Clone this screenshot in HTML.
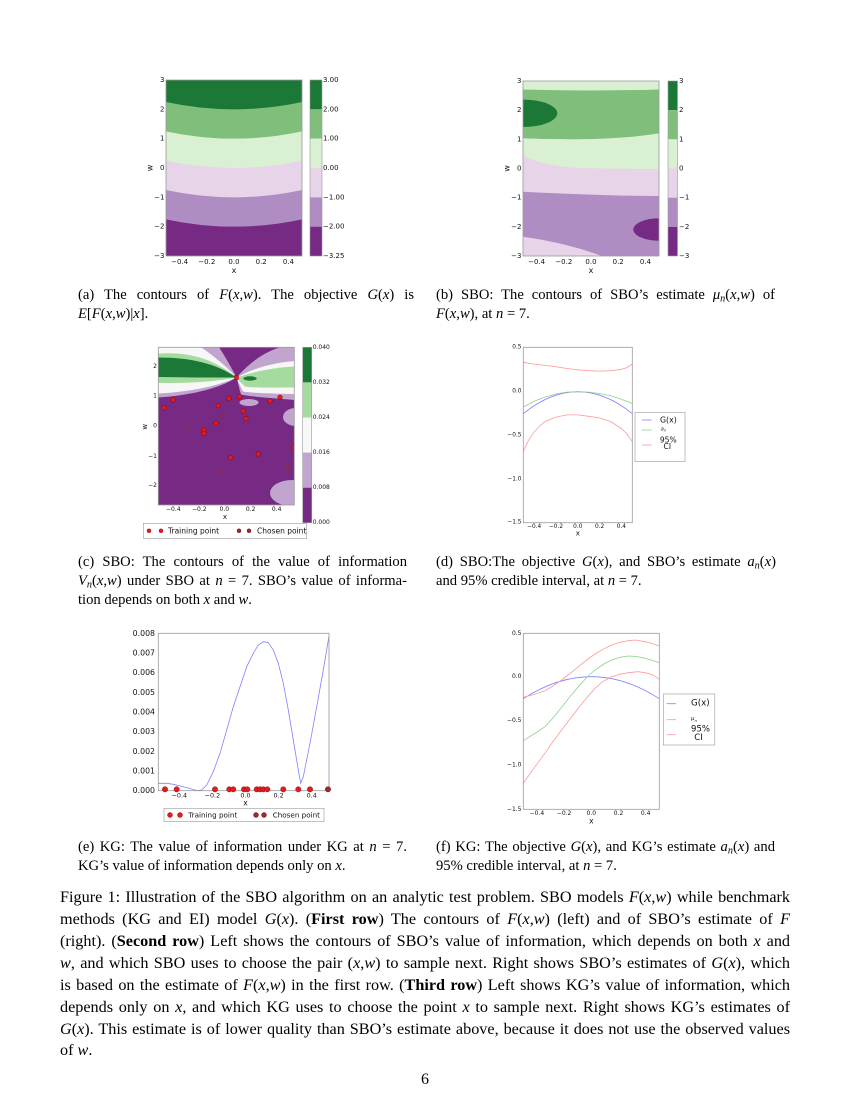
<!DOCTYPE html>
<html><head><meta charset="utf-8">
<style>
html,body{margin:0;padding:0;background:#fff;}
body{width:850px;height:1100px;position:relative;overflow:hidden;font-family:"Liberation Serif",serif;color:#000;}
svg{position:absolute;left:0;top:0;}
.sc{position:absolute;font-size:14.6px;line-height:19px;}
.j{text-align:justify;text-align-last:justify;}
.l{text-align:left;white-space:nowrap;}
.mc{position:absolute;left:60px;width:730px;font-size:16.2px;line-height:22px;}
sub{font-size:70%;vertical-align:-0.25em;line-height:0;}
.pn{position:absolute;left:0;width:850px;text-align:center;top:1069px;font-size:16px;line-height:22px;}
</style></head><body>
<svg width="850" height="1100" viewBox="0 0 850 1100" xmlns="http://www.w3.org/2000/svg">
<defs>
<clipPath id="ca"><rect x="166" y="80" width="136" height="176"/></clipPath>
<clipPath id="cb"><rect x="523" y="81" width="136" height="175"/></clipPath>
<clipPath id="cc"><rect x="158.3" y="347.3" width="136" height="157.7"/></clipPath>
<clipPath id="cd"><rect x="523.3" y="347.3" width="109" height="175.4"/></clipPath>
<clipPath id="ce"><rect x="158.3" y="633.3" width="170.7" height="157.4"/></clipPath>
<clipPath id="cf"><rect x="523.3" y="633.3" width="136" height="176"/></clipPath>
</defs>

<!-- ========== (a) ========== -->
<g clip-path="url(#ca)">
<rect x="166" y="80" width="136" height="176" fill="#1b7837"/>
<path d="M166,102 Q234,116.67 302,102 L302,256 L166,256Z" fill="#7fbf7b"/>
<path d="M166,131.33 Q234,146 302,131.33 L302,256 L166,256Z" fill="#d9f0d3"/>
<path d="M166,160.67 Q234,175.33 302,160.67 L302,256 L166,256Z" fill="#e7d4e8"/>
<path d="M166,190 Q234,204.67 302,190 L302,256 L166,256Z" fill="#af8dc3"/>
<path d="M166,219.33 Q234,234 302,219.33 L302,256 L166,256Z" fill="#762a83"/>
</g>
<rect x="166" y="80" width="136" height="176" fill="none" stroke="#999" stroke-width="0.8"/>
<rect x="310" y="80" width="12" height="29.33" fill="#1b7837"/>
<rect x="310" y="109.33" width="12" height="29.34" fill="#7fbf7b"/>
<rect x="310" y="138.67" width="12" height="29.33" fill="#d9f0d3"/>
<rect x="310" y="168" width="12" height="29.33" fill="#e7d4e8"/>
<rect x="310" y="197.33" width="12" height="29.34" fill="#af8dc3"/>
<rect x="310" y="226.67" width="12" height="29.33" fill="#762a83"/>
<rect x="310" y="80" width="12" height="176" fill="none" stroke="#999" stroke-width="0.6"/>
<g font-family="DejaVu Sans" font-size="7" fill="#111" dominant-baseline="central">
<text x="323" y="80">3.00</text><text x="323" y="109.3">2.00</text><text x="323" y="138.7">1.00</text>
<text x="323" y="168">0.00</text><text x="323" y="197.3">−1.00</text><text x="323" y="226.7">−2.00</text><text x="323" y="256">−3.25</text>
<g text-anchor="end">
<text x="164.5" y="80">3</text><text x="164.5" y="109.3">2</text><text x="164.5" y="138.7">1</text><text x="164.5" y="168">0</text>
<text x="164.5" y="197.3">−1</text><text x="164.5" y="226.7">−2</text><text x="164.5" y="256">−3</text>
</g>
<g text-anchor="middle">
<text x="179.6" y="262">−0.4</text><text x="206.8" y="262">−0.2</text><text x="234" y="262">0.0</text><text x="261.2" y="262">0.2</text><text x="288.4" y="262">0.4</text>
<text x="234" y="270.5" font-size="8">x</text>
<text x="150" y="168" font-size="8" transform="rotate(-90 150 168)">w</text>
</g>
</g>

<!-- ========== (b) ========== -->
<g clip-path="url(#cb)">
<rect x="523" y="81" width="136" height="175" fill="#d9f0d3"/>
<path d="M523,89.5 C570,90.8 615,90.8 659,89.5 L659,133.3 C635,137.5 590,141 523,138.3Z" fill="#7fbf7b"/>
<ellipse cx="523" cy="113.3" rx="34.3" ry="13.7" fill="#1b7837"/>
<path d="M523,155 C533,161 550,166.5 580,168 C615,169 640,169 659,169 L659,256 L523,256Z" fill="#e7d4e8"/>
<path d="M523,191.7 C570,194 620,196 659,196 L659,256 L602,256 C578,247 548,240 523,236.7Z" fill="#af8dc3"/>
<ellipse cx="659" cy="229.5" rx="25.7" ry="11.2" fill="#762a83"/>
</g>
<rect x="523" y="81" width="136" height="175" fill="none" stroke="#999" stroke-width="0.8"/>
<rect x="668" y="81" width="9.5" height="29.17" fill="#1b7837"/>
<rect x="668" y="110.17" width="9.5" height="29.17" fill="#7fbf7b"/>
<rect x="668" y="139.33" width="9.5" height="29.17" fill="#d9f0d3"/>
<rect x="668" y="168.5" width="9.5" height="29.17" fill="#e7d4e8"/>
<rect x="668" y="197.67" width="9.5" height="29.17" fill="#af8dc3"/>
<rect x="668" y="226.83" width="9.5" height="29.17" fill="#762a83"/>
<rect x="668" y="81" width="9.5" height="175" fill="none" stroke="#999" stroke-width="0.6"/>
<g font-family="DejaVu Sans" font-size="7" fill="#111" dominant-baseline="central">
<text x="679" y="81">3</text><text x="679" y="110.2">2</text><text x="679" y="139.3">1</text><text x="679" y="168.5">0</text>
<text x="679" y="197.7">−1</text><text x="679" y="226.8">−2</text><text x="679" y="256">−3</text>
<g text-anchor="end">
<text x="521.5" y="81">3</text><text x="521.5" y="110.2">2</text><text x="521.5" y="139.3">1</text><text x="521.5" y="168.5">0</text>
<text x="521.5" y="197.7">−1</text><text x="521.5" y="226.8">−2</text><text x="521.5" y="256">−3</text>
</g>
<g text-anchor="middle">
<text x="536.6" y="262">−0.4</text><text x="563.8" y="262">−0.2</text><text x="591" y="262">0.0</text><text x="618.2" y="262">0.2</text><text x="645.4" y="262">0.4</text>
<text x="591" y="270.5" font-size="8">x</text>
<text x="507" y="168.5" font-size="8" transform="rotate(-90 507 168.5)">w</text>
</g>
</g>

<!-- ========== (c) ========== -->
<g clip-path="url(#cc)">
<rect x="158.3" y="347.3" width="136" height="157.7" fill="#762a83"/>
<path d="M158.3,347.3 L219,347.3 C226,358 232,369 236.5,377.5 C222,387 195,395 158.3,397.5Z" fill="#c2a5cf"/>
<path d="M158.3,347.3 L201,347.3 C214,356 228,368 236.5,377.5 C220,385 195,391.5 158.3,393.5Z" fill="#f7f7f7"/>
<path d="M158.3,353.5 C185,352 210,356 236.5,377.5 C215,381.5 190,383.5 158.3,383Z" fill="#a6dba0"/>
<path d="M158.3,357.5 C190,357.5 215,363 236.5,377.5 C210,377.5 185,377.5 158.3,377Z" fill="#1b7837"/>
<path d="M236.5,377.5 C250,362 265,352 280,347.3 L294.3,347.3 L294.3,400 C275,398 252,397 241,394.5 C239,388 238,382 236.5,377.5Z" fill="#c2a5cf"/>
<path d="M236.5,377.5 C254,368 272,363 294.3,361 L294.3,394 C270,393.5 252,393 243,391.5 C240,386 238,381 236.5,377.5Z" fill="#f7f7f7"/>
<path d="M236.5,377.5 C256,371 275,367.5 294.3,366.5 L294.3,387.5 C270,387.5 252,388 245,386.5 C241,383 238,380 236.5,377.5Z" fill="#a6dba0"/>
<ellipse cx="250" cy="378.5" rx="6.7" ry="2.2" fill="#1b7837"/>
<ellipse cx="249" cy="402.5" rx="9.5" ry="3.5" fill="#c2a5cf"/>
<ellipse cx="296" cy="417" rx="13" ry="9" fill="#c2a5cf"/>
<ellipse cx="292" cy="493" rx="22" ry="13" fill="#c2a5cf"/>
<g fill="#e41a1c" stroke="#8b0000" stroke-width="0.5">
<circle cx="164.3" cy="407.7" r="2.3"/><circle cx="173.3" cy="400" r="2.3"/><circle cx="218.3" cy="405.7" r="2.3"/>
<circle cx="229" cy="398.3" r="2.3"/><circle cx="239.3" cy="396.7" r="2.3"/><circle cx="243.3" cy="411" r="2.3"/>
<circle cx="246" cy="418.7" r="2.3"/><circle cx="216" cy="423.3" r="2.3"/><circle cx="204" cy="430" r="2.3"/>
<circle cx="204" cy="433.3" r="2.3"/><circle cx="270" cy="401" r="2.3"/><circle cx="280" cy="397.3" r="2.3"/>
<circle cx="230.7" cy="457.7" r="2.3"/><circle cx="258.3" cy="454" r="2.3"/><circle cx="294" cy="447.7" r="2.3"/>
</g>
<g fill="none" stroke="#a0282a" stroke-width="0.7">
<circle cx="223.3" cy="416" r="2.3"/><circle cx="187.3" cy="426" r="2.3"/><circle cx="197.7" cy="473.3" r="2.3"/>
<circle cx="219" cy="470" r="2.3"/><circle cx="288.3" cy="468.3" r="2.3"/>
</g>
<rect x="234.5" y="375.5" width="4" height="4" fill="#e41a1c" stroke="#8b0000" stroke-width="0.4"/>
</g>
<rect x="158.3" y="347.3" width="136" height="157.7" fill="none" stroke="#999" stroke-width="0.8"/>
<rect x="302.7" y="347.3" width="9" height="35.1" fill="#1b7837"/>
<rect x="302.7" y="382.4" width="9" height="35.1" fill="#a6dba0"/>
<rect x="302.7" y="417.5" width="9" height="35.1" fill="#f7f7f7"/>
<rect x="302.7" y="452.6" width="9" height="35.1" fill="#c2a5cf"/>
<rect x="302.7" y="487.7" width="9" height="35" fill="#762a83"/>
<rect x="302.7" y="347.3" width="9" height="175.4" fill="none" stroke="#999" stroke-width="0.6"/>
<g font-family="DejaVu Sans" font-size="6" fill="#111" dominant-baseline="central">
<text x="312.7" y="347.3">0.040</text><text x="312.7" y="382.4">0.032</text><text x="312.7" y="417.5">0.024</text>
<text x="312.7" y="452.6">0.016</text><text x="312.7" y="487.7">0.008</text><text x="312.7" y="522.7">0.000</text>
<g text-anchor="end">
<text x="157" y="366.7">2</text><text x="157" y="396">1</text><text x="157" y="426">0</text><text x="157" y="456.7">−1</text><text x="157" y="485.7">−2</text>
</g>
<g text-anchor="middle">
<text x="173.3" y="509.5">−0.4</text><text x="199.3" y="509.5">−0.2</text><text x="224.3" y="509.5">0.0</text><text x="250.7" y="509.5">0.2</text><text x="276.7" y="509.5">0.4</text>
<text x="225" y="516.8" font-size="7">x</text>
<text x="145" y="426.7" font-size="7" transform="rotate(-90 145 426.7)">w</text>
</g>
</g>
<rect x="143.3" y="523.3" width="163.4" height="15" fill="#fff" stroke="#999" stroke-width="0.6"/>
<g fill="#e41a1c" stroke="#8b0000" stroke-width="0.4">
<circle cx="149" cy="530.8" r="2"/><circle cx="161" cy="530.8" r="2"/>
</g>
<g fill="#a0282a" stroke="#6b0000" stroke-width="0.4">
<circle cx="239" cy="530.8" r="2"/><circle cx="249" cy="530.8" r="2"/>
</g>
<g font-family="DejaVu Sans" font-size="7.5" fill="#111" dominant-baseline="central">
<text x="168" y="530.8">Training point</text><text x="257" y="530.8">Chosen point</text>
</g>

<!-- ========== (d) ========== -->
<g clip-path="url(#cd)" fill="none" stroke-width="0.8">
<path d="M523.3,413.6 Q577.8,369.8 632.3,413.6" stroke="#7f7fff"/>
<polyline stroke="#8fd08f" points="523.3,407 534.2,401.3 545.1,397 556,393.9 566.9,392.1 577.8,391.7 588.7,392.1 599.6,393.5 610.5,395.6 621.4,399.2 632.3,403.5"/>
<polyline stroke="#ff9a9a" points="523.3,362.3 534.2,364.1 545.1,365.4 556,366.7 566.9,368.5 577.8,369.8 588.7,370.7 599.6,371.1 610.5,370.8 621.4,369.3 626.85,367.6 632.3,364.1"/>
<polyline stroke="#ff9a9a" points="523.3,451.3 528.75,439.9 534.2,432 539.65,425.9 545.1,421.5 556,417.1 566.9,414.9 577.8,414.9 588.7,416.3 599.6,418 610.5,421.5 621.4,428.5 626.85,433.8 632.3,441.7"/>
</g>
<rect x="523.3" y="347.3" width="109" height="175.4" fill="none" stroke="#999" stroke-width="0.8"/>
<g font-family="DejaVu Sans" font-size="5.8" fill="#111" dominant-baseline="central">
<g text-anchor="end">
<text x="521.5" y="347.3">0.5</text><text x="521.5" y="391.7">0.0</text><text x="521.5" y="435.7">−0.5</text><text x="521.5" y="479.3">−1.0</text><text x="521.5" y="522.7">−1.5</text>
</g>
<g text-anchor="middle">
<text x="534.2" y="527">−0.4</text><text x="556" y="527">−0.2</text><text x="577.8" y="527">0.0</text><text x="599.6" y="527">0.2</text><text x="621.4" y="527">0.4</text>
<text x="577.8" y="533.5" font-size="7">x</text>
</g>
</g>
<rect x="635" y="412.3" width="50" height="49.4" fill="#fff" stroke="#999" stroke-width="0.6"/>
<line x1="641.7" y1="420" x2="651.7" y2="420" stroke="#7f7fff" stroke-width="0.8"/>
<line x1="641.7" y1="430" x2="651.7" y2="430" stroke="#8fd08f" stroke-width="0.8"/>
<line x1="641.7" y1="445" x2="651.7" y2="445" stroke="#ff9a9a" stroke-width="0.8"/>
<g font-family="DejaVu Sans" fill="#111" dominant-baseline="central">
<text x="660" y="420" font-size="7.8">G(x)</text>
<text x="660.7" y="429.5" font-size="5" font-style="italic">a<tspan font-size="3.5" dy="1">n</tspan></text>
<text x="668.3" y="440" font-size="7.6" text-anchor="middle">95%</text>
<text x="667.3" y="446.7" font-size="7.6" text-anchor="middle">CI</text>
</g>

<!-- ========== (e) ========== -->
<g clip-path="url(#ce)">
<polyline fill="none" stroke="#8080ff" stroke-width="0.8" points="158.3,783.3 166.7,783.3 173.3,784.3 183.3,786.7 196.7,790.5 201.7,790 206.7,785 213.3,771.7 220,753.3 226.7,730 233.3,706.7 240,686.7 246.7,666.7 253.3,653.3 258.3,645 263.3,641.7 268.3,642.7 273.3,650 278.3,663.3 283.3,683.3 288.3,710 293.3,740 298.3,770 300.7,783.3 303.3,776.7 310,743.3 316.7,706.7 323.3,670 329,636"/>
</g>
<rect x="158.3" y="633.3" width="170.7" height="157.4" fill="none" stroke="#999" stroke-width="0.8"/>
<g fill="#e41a1c" stroke="#8b0000" stroke-width="0.4">
<circle cx="165" cy="789.3" r="2.7"/><circle cx="176.7" cy="789.3" r="2.7"/><circle cx="215" cy="789.3" r="2.7"/>
<circle cx="229.3" cy="789.3" r="2.7"/><circle cx="233.3" cy="789.3" r="2.7"/><circle cx="244" cy="789.3" r="2.7"/>
<circle cx="247.3" cy="789.3" r="2.7"/><circle cx="256.7" cy="789.3" r="2.7"/><circle cx="260" cy="789.3" r="2.7"/>
<circle cx="263.3" cy="789.3" r="2.7"/><circle cx="267.3" cy="789.3" r="2.7"/><circle cx="283.3" cy="789.3" r="2.7"/>
<circle cx="298.3" cy="789.3" r="2.7"/><circle cx="310" cy="789.3" r="2.7"/>
</g>
<circle cx="328" cy="789.3" r="2.7" fill="#a0282a" stroke="#6b0000" stroke-width="0.4"/>
<g font-family="DejaVu Sans" fill="#111" dominant-baseline="central">
<g text-anchor="end" font-size="7.8">
<text x="155" y="633.3">0.008</text><text x="155" y="653">0.007</text><text x="155" y="672.7">0.006</text><text x="155" y="692.3">0.005</text>
<text x="155" y="712">0.004</text><text x="155" y="731.7">0.003</text><text x="155" y="751.3">0.002</text><text x="155" y="771">0.001</text><text x="155" y="790.7">0.000</text>
</g>
<g text-anchor="middle" font-size="6.4">
<text x="179.3" y="795.5">−0.4</text><text x="212.4" y="795.5">−0.2</text><text x="245.5" y="795.5">0.0</text><text x="278.6" y="795.5">0.2</text><text x="311.7" y="795.5">0.4</text>
<text x="245.5" y="802.8" font-size="7.5">x</text>
</g>
</g>
<rect x="164" y="808.3" width="160" height="13.4" fill="#fff" stroke="#999" stroke-width="0.6"/>
<g fill="#e41a1c" stroke="#8b0000" stroke-width="0.4">
<circle cx="170" cy="815" r="2.5"/><circle cx="180" cy="815" r="2.5"/>
</g>
<g fill="#a0282a" stroke="#6b0000" stroke-width="0.4">
<circle cx="256" cy="815" r="2.5"/><circle cx="264" cy="815" r="2.5"/>
</g>
<g font-family="DejaVu Sans" font-size="7.2" fill="#111" dominant-baseline="central">
<text x="188.3" y="815">Training point</text><text x="272.7" y="815">Chosen point</text>
</g>

<!-- ========== (f) ========== -->
<g clip-path="url(#cf)" fill="none" stroke-width="0.8">
<path d="M523.3,698.7 Q591.3,654.7 659.3,698.7" stroke="#7f7fff"/>
<polyline stroke="#8fd08f" points="523.3,740.7 534,734 545,726.7 553,718 561.7,707.3 570,696.5 578.3,686.7 586.7,677.5 595,670 603,664.5 611.7,660 620,657.3 628.3,656 636.7,656.5 645,658.3 652,660.3 659.3,662.7"/>
<polyline stroke="#ff9a9a" points="523.3,697.3 534,694.5 545,690.7 553,686 561.7,680 570,673.5 578.3,666.7 586.7,660 595,654 603,649.3 611.7,645 620,642.3 628.3,640.7 635,640 645,641.7 652,643.5 659.3,646"/>
<polyline stroke="#ff9a9a" points="523.3,783.3 534,768 545,753.3 553,741.5 561.7,730 570,719 578.3,708.3 586.7,697.8 595,688.3 603,681.5 611.7,676.7 620,674.2 628.3,672.7 638.3,671.7 648.3,673.3 654,675.6 659.3,679.3"/>
</g>
<rect x="523.3" y="633.3" width="136" height="176" fill="none" stroke="#999" stroke-width="0.8"/>
<g font-family="DejaVu Sans" font-size="6" fill="#111" dominant-baseline="central">
<g text-anchor="end">
<text x="521.5" y="633.3">0.5</text><text x="521.5" y="676.7">0.0</text><text x="521.5" y="720.7">−0.5</text><text x="521.5" y="765">−1.0</text><text x="521.5" y="809.3">−1.5</text>
</g>
<g text-anchor="middle">
<text x="536.9" y="813.5">−0.4</text><text x="564.1" y="813.5">−0.2</text><text x="591.3" y="813.5">0.0</text><text x="618.5" y="813.5">0.2</text><text x="645.7" y="813.5">0.4</text>
<text x="591.3" y="820.8" font-size="7.5">x</text>
</g>
</g>
<rect x="663.3" y="694" width="51.5" height="51" fill="#fff" stroke="#999" stroke-width="0.6"/>
<line x1="666.7" y1="703.7" x2="676" y2="703.7" stroke="#7f7fff" stroke-width="0.8"/>
<line x1="666.7" y1="719.7" x2="676" y2="719.7" stroke="#8fd08f" stroke-width="0.8"/>
<line x1="666.7" y1="734.7" x2="676" y2="734.7" stroke="#ff9a9a" stroke-width="0.8"/>
<g font-family="DejaVu Sans" fill="#111" dominant-baseline="central">
<text x="691" y="703.7" font-size="8.7">G(x)</text>
<text x="691" y="719.2" font-size="5.5" font-style="italic">μ<tspan font-size="3.8" dy="1">n</tspan></text>
<text x="700.5" y="729.7" font-size="8.5" text-anchor="middle">95%</text>
<text x="698.5" y="738" font-size="8.5" text-anchor="middle">CI</text>
</g>
</svg>

<!-- sub-captions -->
<div class="sc j" style="left:78px;top:286px;width:336px;">(a) The contours of <i>F</i>(<i>x</i>,<i>w</i>). The objective <i>G</i>(<i>x</i>) is</div>
<div class="sc l" style="left:78px;top:305px;"><i>E</i>[<i>F</i>(<i>x</i>,<i>w</i>)|<i>x</i>].</div>

<div class="sc j" style="left:436px;top:286px;width:339px;">(b) SBO: The contours of SBO’s estimate <i>μ<sub>n</sub></i>(<i>x</i>,<i>w</i>) of</div>
<div class="sc l" style="left:436px;top:305px;"><i>F</i>(<i>x</i>,<i>w</i>), at <i>n</i> = 7.</div>

<div class="sc j" style="left:78px;top:553px;width:329px;">(c) SBO: The contours of the value of information</div>
<div class="sc j" style="left:78px;top:572px;width:329px;"><i>V<sub>n</sub></i>(<i>x</i>,<i>w</i>) under SBO at <i>n</i> = 7. SBO’s value of informa-</div>
<div class="sc l" style="left:78px;top:591px;">tion depends on both <i>x</i> and <i>w</i>.</div>

<div class="sc j" style="left:436px;top:553px;width:340px;">(d) SBO:The objective <i>G</i>(<i>x</i>), and SBO’s estimate <i>a<sub>n</sub></i>(<i>x</i>)</div>
<div class="sc l" style="left:436px;top:572px;">and 95% credible interval, at <i>n</i> = 7.</div>

<div class="sc j" style="left:78px;top:838px;width:329px;">(e) KG: The value of information under KG at <i>n</i> = 7.</div>
<div class="sc l" style="left:78px;top:857px;">KG’s value of information depends only on <i>x</i>.</div>

<div class="sc j" style="left:436px;top:838px;width:339px;">(f) KG: The objective <i>G</i>(<i>x</i>), and KG’s estimate <i>a<sub>n</sub></i>(<i>x</i>) and</div>
<div class="sc l" style="left:436px;top:857px;">95% credible interval, at <i>n</i> = 7.</div>

<!-- main caption -->
<div class="mc j" style="top:886px;">Figure 1: Illustration of the SBO algorithm on an analytic test problem. SBO models <i>F</i>(<i>x</i>,<i>w</i>) while benchmark</div>
<div class="mc j" style="top:908px;">methods (KG and EI) model <i>G</i>(<i>x</i>). (<b>First row</b>) The contours of <i>F</i>(<i>x</i>,<i>w</i>) (left) and of SBO’s estimate of <i>F</i></div>
<div class="mc j" style="top:930px;">(right). (<b>Second row</b>) Left shows the contours of SBO’s value of information, which depends on both <i>x</i> and</div>
<div class="mc j" style="top:952px;"><i>w</i>, and which SBO uses to choose the pair (<i>x</i>,<i>w</i>) to sample next. Right shows SBO’s estimates of <i>G</i>(<i>x</i>), which</div>
<div class="mc j" style="top:974px;">is based on the estimate of <i>F</i>(<i>x</i>,<i>w</i>) in the first row. (<b>Third row</b>) Left shows KG’s value of information, which</div>
<div class="mc j" style="top:996px;">depends only on <i>x</i>, and which KG uses to choose the point <i>x</i> to sample next. Right shows KG’s estimates of</div>
<div class="mc j" style="top:1018px;"><i>G</i>(<i>x</i>). This estimate is of lower quality than SBO’s estimate above, because it does not use the observed values</div>
<div class="mc l" style="top:1039px;">of <i>w</i>.</div>

<div class="pn">6</div>
</body></html>
